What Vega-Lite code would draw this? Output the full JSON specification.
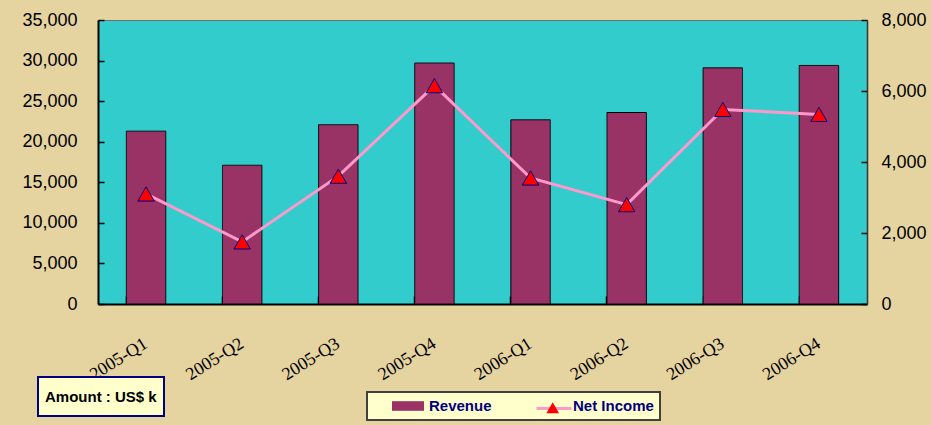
{
  "$schema": "https://vega.github.io/schema/vega-lite/v6.json",
  "width": 769,
  "height": 284,
  "autosize": "none",
  "padding": {"left": 98, "top": 20, "right": 64, "bottom": 121},
  "background": "#E5D3A0",
  "config": {
    "view": {"fill": "#33CCCC", "stroke": "#707070", "strokeWidth": 1},
    "axis": {"grid": false, "zindex": 1, "labelFont": "Liberation Sans", "labelColor": "#000000", "domainColor": "#000000", "tickColor": "#000000"},
    "legend": {"strokeWidth": 2}
  },
  "data": {
    "values": [
      {"quarter": "2005-Q1", "revenue": 21300, "netIncome": 3100},
      {"quarter": "2005-Q2", "revenue": 17100, "netIncome": 1750},
      {"quarter": "2005-Q3", "revenue": 22100, "netIncome": 3600},
      {"quarter": "2005-Q4", "revenue": 29700, "netIncome": 6150},
      {"quarter": "2006-Q1", "revenue": 22700, "netIncome": 3550},
      {"quarter": "2006-Q2", "revenue": 23600, "netIncome": 2800},
      {"quarter": "2006-Q3", "revenue": 29100, "netIncome": 5480},
      {"quarter": "2006-Q4", "revenue": 29400, "netIncome": 5340}
    ]
  },
  "layer": [
    {
      "mark": {"type": "bar", "stroke": "#000000", "strokeWidth": 1},
      "encoding": {
        "x": {
          "field": "quarter", "type": "nominal", "sort": null,
          "scale": {"paddingInner": 0.59, "paddingOuter": 0.295},
          "axis": {
            "title": null, "bandPosition": 0, "tickSize": -8, "tickWidth": 1.5,
            "domainWidth": 2, "labelAngle": -32, "labelAlign": "right", "labelBaseline": "middle",
            "labelFont": "Liberation Serif", "labelFontSize": 18, "labelPadding": 46
          }
        },
        "y": {
          "field": "revenue", "type": "quantitative",
          "scale": {"domain": [0, 35000], "nice": false},
          "axis": {
            "title": null, "values": [0, 5000, 10000, 15000, 20000, 25000, 30000, 35000],
            "format": ",.0f", "labelFontSize": 18, "tickSize": -6, "tickWidth": 1.5, "labelPadding": 27, "domainWidth": 2
          }
        },
        "fill": {
          "datum": "Revenue",
          "scale": {"domain": ["Revenue", "Net Income"], "range": ["#993366", "rgba(0,0,0,0)"]},
          "legend": {
            "orient": "none", "legendX": 269, "legendY": 372, "direction": "horizontal", "title": null, "zindex": 0,
            "fillColor": "#FFFFCC", "strokeColor": "#404040", "padding": 6,
            "symbolType": "M1.375,-0.6H5.375V0.6H1.375Z",
            "symbolSize": 256, "symbolOpacity": 1, "symbolStrokeWidth": 0, "labelOffset": 40, "columnPadding": 25,
            "labelFont": "Liberation Sans", "labelFontSize": 15, "labelFontWeight": "bold", "labelColor": "#000080"
          }
        },
        "strokeDash": {
          "datum": "Amount : US$ k",
          "scale": {"domain": ["Amount : US$ k"], "range": [[1, 0]]},
          "legend": {
            "orient": "none", "legendX": -60, "legendY": 357, "title": null, "zindex": 0,
            "fillColor": "#FFFFCC", "strokeColor": "#000080", "padding": 7,
            "symbolSize": 625, "symbolOpacity": 0, "symbolStrokeWidth": 0, "labelOffset": -25,
            "labelFont": "Liberation Sans", "labelFontSize": 15, "labelFontWeight": "bold", "labelColor": "#000000"
          }
        }
      }
    },
    {
      "encoding": {
        "x": {"field": "quarter", "type": "nominal", "sort": null},
        "y": {
          "field": "netIncome", "type": "quantitative",
          "scale": {"domain": [0, 8000], "nice": false},
          "axis": {
            "title": null, "orient": "right", "values": [0, 2000, 4000, 6000, 8000],
            "format": ",.0f", "labelFontSize": 18, "tickSize": -6, "tickWidth": 1.5, "labelPadding": 20,
            "domainWidth": 1.5, "domainColor": "#333333"
          }
        }
      },
      "layer": [
        {
          "mark": {"type": "line", "strokeWidth": 3},
          "encoding": {
            "stroke": {
              "datum": "Net Income",
              "scale": {"domain": ["Net Income"], "range": ["#FF99CC"]},
              "legend": {
                "orient": "none", "legendX": 437, "legendY": 369.5, "title": null, "padding": 0, "zindex": 1,
                "symbolType": "stroke", "symbolSize": 1225,
                "symbolStrokeColor": "#FF99CC", "symbolStrokeWidth": 3, "symbolOpacity": 1,
                "labelExpr": "''", "labelFontSize": 1
              }
            }
          }
        },
        {
          "mark": {"type": "point", "filled": true, "fill": "#FF0000", "stroke": "#000080", "strokeWidth": 1, "size": 270, "opacity": 1},
          "encoding": {
            "shape": {
              "datum": "marker",
              "scale": {"domain": ["marker"], "range": ["triangle-up"]},
              "legend": {
                "orient": "none", "legendX": 447.7, "legendY": 380.7, "title": null, "padding": 0, "zindex": 2,
                "symbolSize": 160, "symbolFillColor": "#FF0000", "symbolStrokeColor": "#000080",
                "symbolStrokeWidth": 1, "symbolOpacity": 1, "labelExpr": "''", "labelFontSize": 1
              }
            }
          }
        }
      ]
    }
  ],
  "resolve": {"scale": {"y": "independent"}}
}
